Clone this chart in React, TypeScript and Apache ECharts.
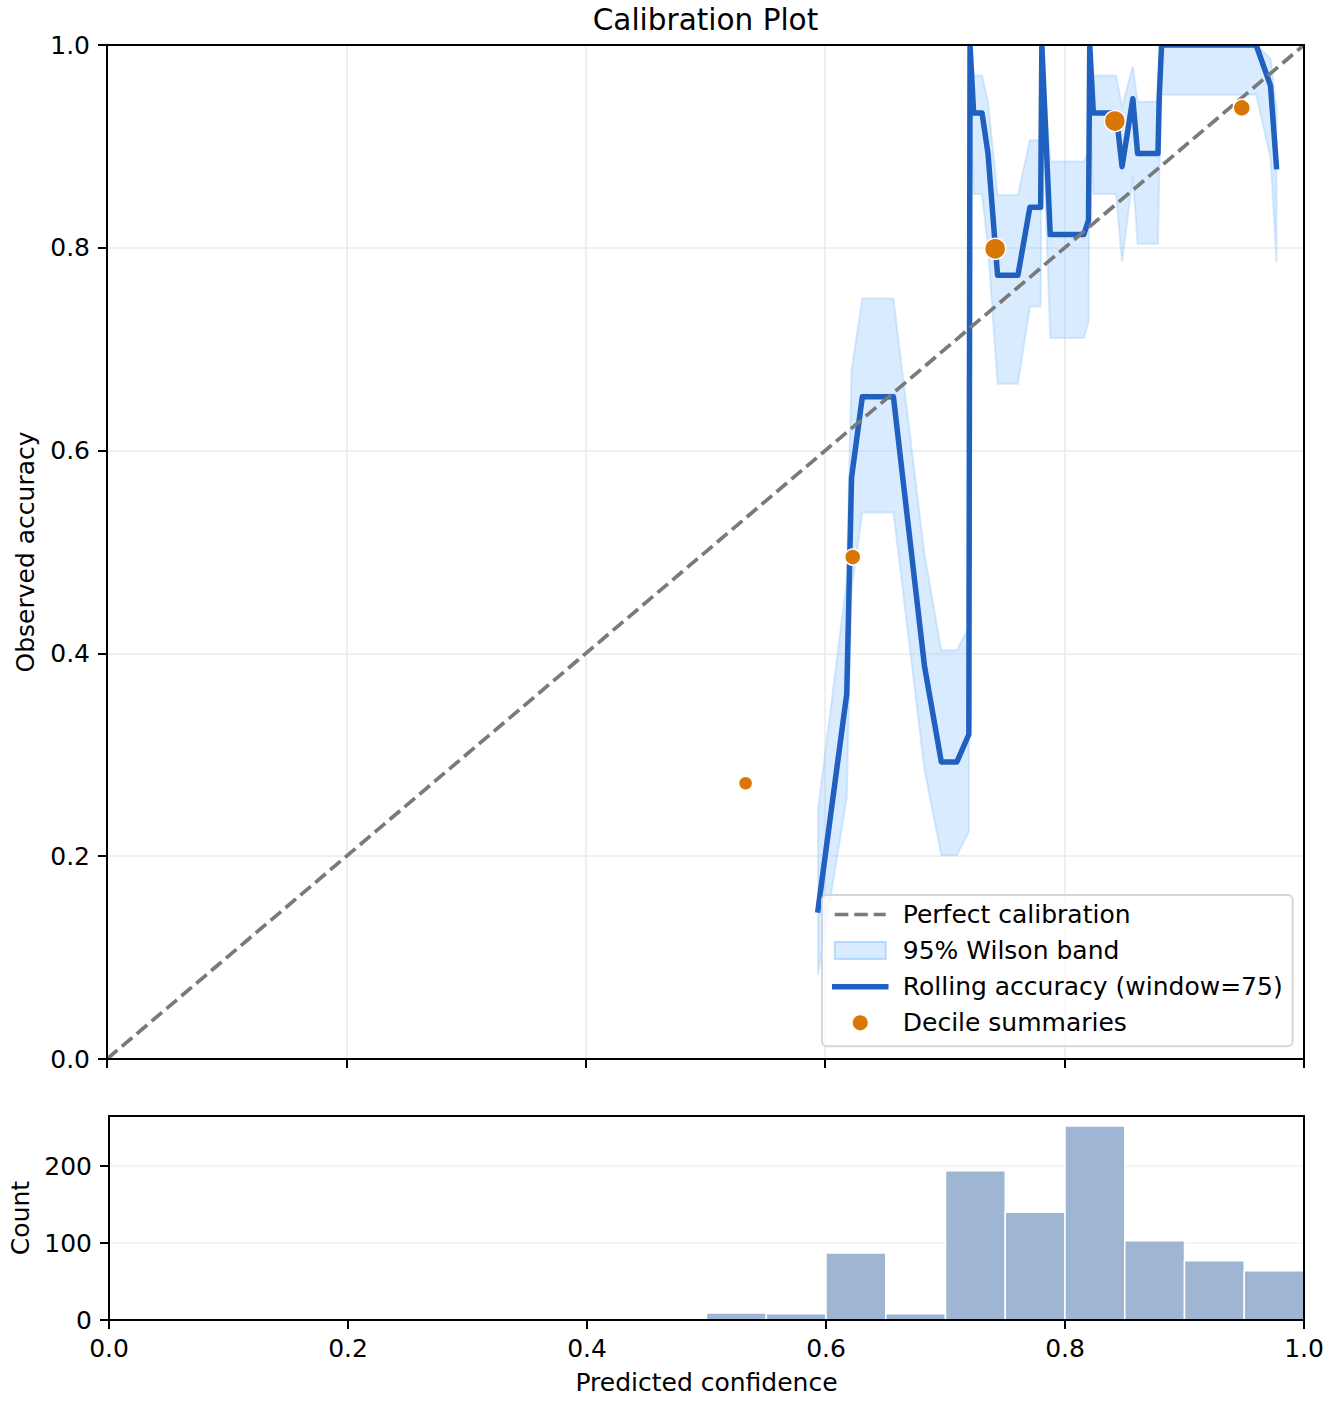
import React, { useEffect, useRef } from 'react';
import * as echarts from 'echarts';

// ---- data ----
const rollX = [0.594, 0.618, 0.622, 0.631, 0.657, 0.683, 0.697, 0.710, 0.720, 0.721, 0.724, 0.731, 0.736, 0.744, 0.761, 0.771, 0.780, 0.781, 0.788, 0.816, 0.820, 0.821, 0.824, 0.843, 0.848, 0.857, 0.861, 0.878, 0.879, 0.881, 0.960, 0.972, 0.977];
const rollAcc = [0.147, 0.36, 0.573, 0.653, 0.653, 0.387, 0.293, 0.293, 0.32, 1.0, 0.933, 0.933, 0.893, 0.773, 0.773, 0.84, 0.84, 1.0, 0.813, 0.813, 0.827, 1.0, 0.933, 0.933, 0.88, 0.947, 0.893, 0.893, 0.947, 1.0, 1.0, 0.96, 0.88];
const bandLo = [0.083, 0.258, 0.462, 0.539, 0.539, 0.285, 0.201, 0.201, 0.224, 0.951, 0.853, 0.853, 0.80, 0.666, 0.666, 0.742, 0.742, 0.951, 0.711, 0.711, 0.726, 0.951, 0.853, 0.853, 0.786, 0.870, 0.804, 0.804, 0.870, 0.951, 0.951, 0.889, 0.786];
const bandHi = [0.246, 0.472, 0.679, 0.750, 0.750, 0.497, 0.403, 0.403, 0.426, 1.0, 0.970, 0.970, 0.944, 0.852, 0.852, 0.906, 0.906, 1.0, 0.885, 0.885, 0.895, 1.0, 0.970, 0.970, 0.939, 0.979, 0.944, 0.944, 0.979, 1.0, 1.0, 0.987, 0.936];
const decileX = [0.5335, 0.623, 0.742, 0.842, 0.948];
const decileAcc = [0.272, 0.495, 0.799, 0.925, 0.938];
const decileSize = [14, 16, 21, 21, 17];
const diagX = [0, 1];
const diagY = [0, 1];
const binEdges = [0.5, 0.55, 0.6, 0.65, 0.7, 0.75, 0.8, 0.85, 0.9, 0.95, 1.0];
const binCounts = [9, 8, 87, 8, 194, 140, 252, 103, 77, 64];
const countTicks = [0, 100, 200];

const FONT = 'DejaVu Sans';
const FS = 25;
const BLUE = '#1f60c0';
const ORANGE = '#d97706';
const GRAY = '#7a7a7a';
const BAND_FILL = 'rgba(147,197,253,0.35)';
const DASH = [13.6, 5.9];
const ROLL_W = 5.5;

export default function App() {
  const ref = useRef<HTMLDivElement>(null);
  useEffect(() => {
    if (!ref.current) return;
    const chart = echarts.init(ref.current, null, { renderer: 'svg' });
    const fmt1 = (v: number) => v.toFixed(1);
    const tickStyle = { show: true, length: 9, lineStyle: { color: '#000', width: 2 } };
    const axisLineStyle = { show: true, lineStyle: { color: '#000', width: 2 } };
    const labelStyle = { fontSize: FS, color: '#000', fontFamily: FONT };
    const hiddenSymbol = { color: 'rgba(0,0,0,0)', borderColor: 'rgba(0,0,0,0)', borderWidth: 0, opacity: 0 };
    const option: any = {
      animation: false,
      backgroundColor: '#fff',
      textStyle: { fontFamily: FONT },
      title: {
        text: 'Calibration Plot',
        left: 705.5,
        top: 5,
        textAlign: 'center',
        padding: 0,
        textStyle: { fontSize: 29.5, fontWeight: 'normal', color: '#000', fontFamily: FONT, lineHeight: 30 },
      },
      grid: [
        { left: 107, top: 45, width: 1197, height: 1014, show: true, z: 10, backgroundColor: 'transparent', borderColor: '#000', borderWidth: 2 },
        { left: 107, top: 1116, width: 1197, height: 204, show: true, z: 10, backgroundColor: 'transparent', borderColor: '#000', borderWidth: 2 },
      ],
      xAxis: [
        {
          type: 'value', gridIndex: 0, min: 0, max: 1, interval: 0.2,
          axisLine: axisLineStyle, axisTick: tickStyle,
          axisLabel: { show: false },
          splitLine: { show: true, lineStyle: { color: '#ebebeb', width: 1.6 } },
        },
        {
          type: 'value', gridIndex: 1, min: 0, max: 1, interval: 0.2,
          axisLine: axisLineStyle, axisTick: tickStyle,
          axisLabel: { ...labelStyle, formatter: fmt1, margin: 16 },
          splitLine: { show: false },
          name: 'Predicted confidence', nameLocation: 'middle', nameGap: 50,
          nameTextStyle: { ...labelStyle },
        },
      ],
      yAxis: [
        {
          type: 'value', gridIndex: 0, min: 0, max: 1, interval: 0.2,
          axisLine: axisLineStyle, axisTick: tickStyle,
          axisLabel: { ...labelStyle, formatter: fmt1, margin: 17 },
          splitLine: { show: true, lineStyle: { color: '#ebebeb', width: 1.6 } },
          name: 'Observed accuracy', nameLocation: 'middle', nameGap: 69,
          nameTextStyle: { ...labelStyle },
        },
        {
          type: 'value', gridIndex: 1, min: 0, max: 265, interval: 100,
          axisLine: axisLineStyle,
          axisTick: { ...tickStyle, customValues: countTicks },
          axisLabel: { ...labelStyle, margin: 17, customValues: countTicks },
          splitLine: { show: true, lineStyle: { color: '#f0f0f0', width: 1.6 } },
          name: 'Count', nameLocation: 'middle', nameGap: 76,
          nameTextStyle: { ...labelStyle },
        },
      ],
      legend: {
        orient: 'vertical', left: 822, top: 895, padding: [7, 10, 11, 10],
        itemWidth: 51, itemHeight: 17, itemGap: 11.1,
        backgroundColor: 'rgba(255,255,255,0.8)', borderColor: '#d6d6d6', borderWidth: 2, borderRadius: 5,
        selectedMode: false,
        textStyle: { fontSize: FS, color: '#000', fontFamily: FONT, lineHeight: 24.5, padding: [0, 0, 0, 12] },
        data: [
          { name: 'Perfect calibration', itemStyle: hiddenSymbol, lineStyle: { color: GRAY, width: 3.7, type: DASH } },
          { name: '95% Wilson band', icon: 'rect', itemStyle: { color: BAND_FILL, borderColor: 'rgba(147,197,253,0.6)', borderWidth: 2 } },
          { name: 'Rolling accuracy (window=75)', itemStyle: hiddenSymbol, lineStyle: { color: BLUE, width: ROLL_W, type: 'solid' } },
          { name: 'Decile summaries', icon: 'circle' },
        ],
      },
      graphic: [
        { type: 'rect', silent: true, z: 9, shape: { x: 107, y: 39, width: 1197, height: 5 }, style: { fill: '#fff' } },
      ],
      series: [
        {
          name: '95% Wilson band', type: 'custom', xAxisIndex: 0, yAxisIndex: 0, z: 1,
          itemStyle: { color: BAND_FILL },
          data: rollX.map((x, i) => [x, bandLo[i], bandHi[i]]),
          encode: { x: 0, y: [1, 2] },
          renderItem: (params: any, api: any) => {
            if (params.dataIndex !== 0) return null;
            const pts: number[][] = [];
            for (let i = 0; i < rollX.length; i++) pts.push(api.coord([rollX[i], bandHi[i]]));
            for (let i = rollX.length - 1; i >= 0; i--) pts.push(api.coord([rollX[i], bandLo[i]]));
            return {
              type: 'polygon',
              shape: { points: pts },
              style: { fill: BAND_FILL, stroke: BAND_FILL, lineWidth: 2 },
            };
          },
        },
        {
          name: 'Rolling accuracy (window=75)', type: 'line', xAxisIndex: 0, yAxisIndex: 0, z: 2,
          data: rollX.map((x, i) => [x, rollAcc[i]]),
          symbol: 'none', showSymbol: false,
          lineStyle: { color: BLUE, width: ROLL_W, join: 'round', cap: 'square' },
          itemStyle: { color: BLUE },
        },
        {
          name: 'Perfect calibration', type: 'line', xAxisIndex: 0, yAxisIndex: 0, z: 3,
          data: diagX.map((x, i) => [x, diagY[i]]),
          symbol: 'none', showSymbol: false,
          lineStyle: { color: GRAY, width: 3.7, type: DASH },
          itemStyle: { color: GRAY },
        },
        {
          name: 'Decile summaries', type: 'scatter', xAxisIndex: 0, yAxisIndex: 0, z: 4,
          data: decileX.map((x, i) => [x, decileAcc[i], decileSize[i]]),
          symbolSize: (v: number[]) => v[2],
          itemStyle: { color: ORANGE, borderColor: '#fff', borderWidth: 1.5, opacity: 1 },
        },
        {
          name: 'Count', type: 'custom', xAxisIndex: 1, yAxisIndex: 1, z: 2,
          data: binCounts.map((c, i) => [binEdges[i], binEdges[i + 1], c]),
          encode: { x: [0, 1], y: 2 },
          renderItem: (params: any, api: any) => {
            const p0 = api.coord([api.value(0), api.value(2)]);
            const p1 = api.coord([api.value(1), 0]);
            return {
              type: 'rect',
              shape: { x: p0[0], y: p0[1], width: p1[0] - p0[0], height: p1[1] - p0[1] },
              style: { fill: '#9eb6d4', stroke: '#ffffff', lineWidth: 1.5 },
            };
          },
        },
      ],
    };
    chart.setOption(option);
    return () => chart.dispose();
  }, []);
  return (
    <div
      ref={ref}
      style={{ position: 'absolute', left: 0, top: 0, width: 1332, height: 1404, background: '#fff' }}
    />
  );
}
